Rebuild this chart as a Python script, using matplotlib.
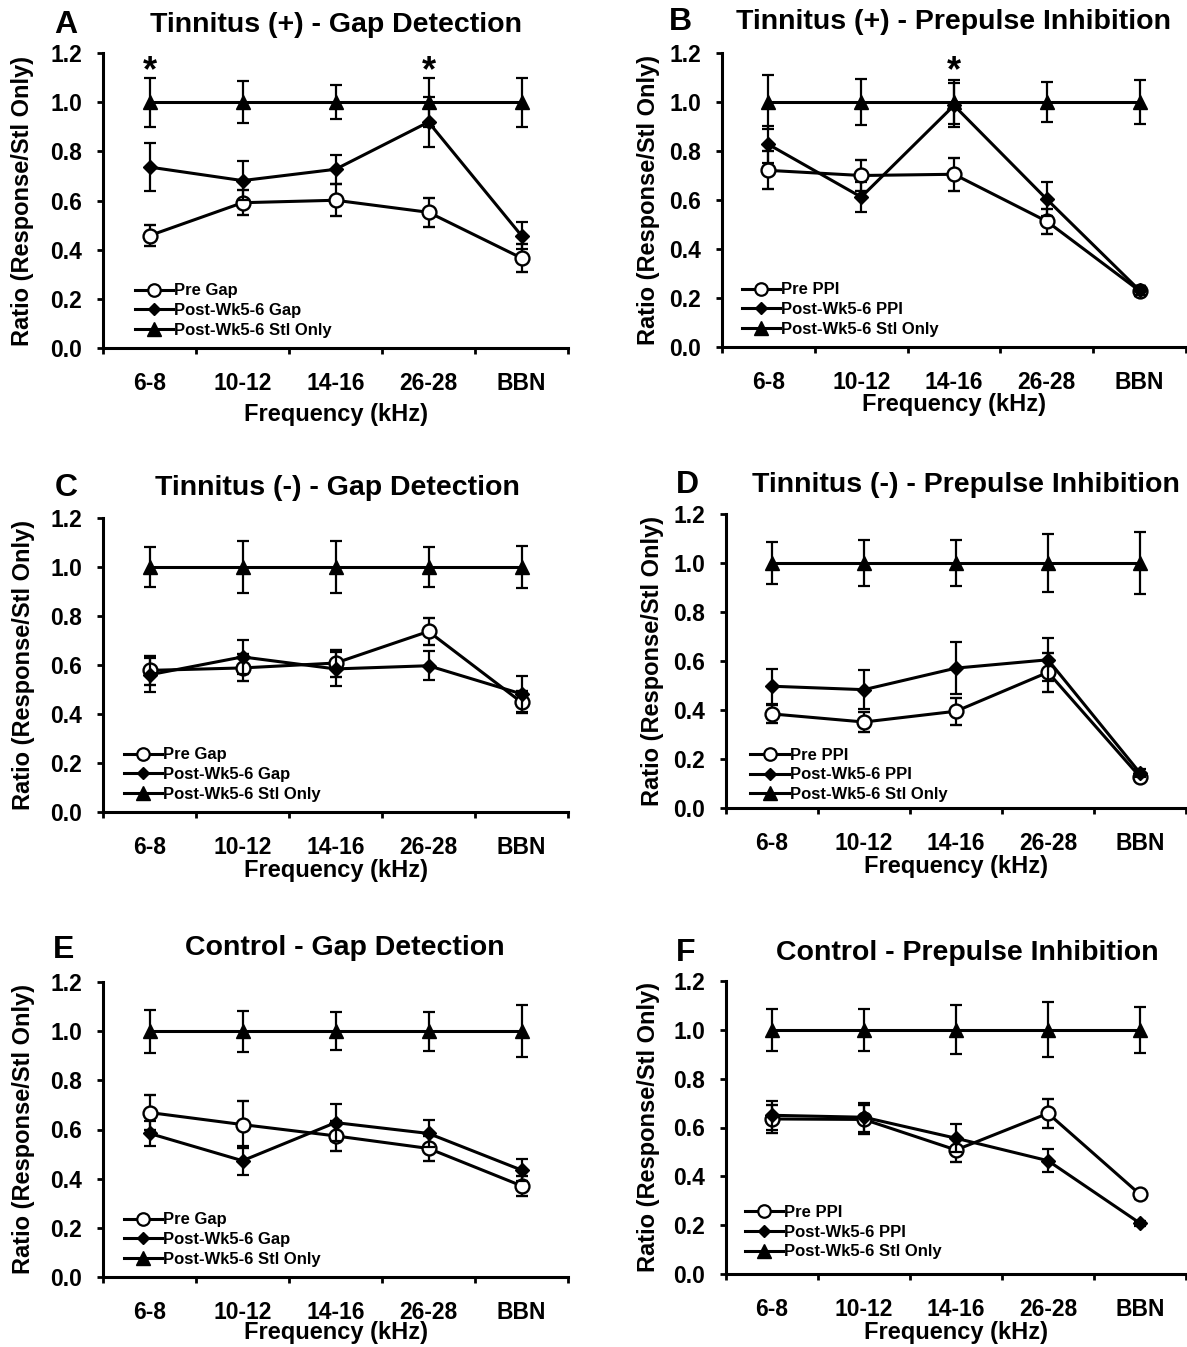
import numpy as np
import matplotlib
matplotlib.use("Agg")
import matplotlib.pyplot as plt
from matplotlib.lines import Line2D

plt.rcParams['font.family'] = ['Liberation Sans', 'DejaVu Sans']
plt.rcParams['font.weight'] = 'bold'

W, H = 1187, 1347

freqs = ["6-8", "10-12", "14-16", "26-28", "BBN"]

# A - Tinnitus (+) gap
a_pre = [0.457, 0.591, 0.601, 0.552, 0.366]
a_pre_err = [0.042, 0.05, 0.065, 0.06, 0.057]
a_post = [0.736, 0.681, 0.727, 0.919, 0.457]
a_post_err = [0.097, 0.08, 0.06, 0.10, 0.055]
a_stl = [1.0, 1.0, 1.0, 1.0, 1.0]
a_stl_err = [0.10, 0.085, 0.07, 0.10, 0.10]
a_stars = [0, 3]

# B - Tinnitus (+) PPI
b_pre = [0.721, 0.70, 0.705, 0.513, 0.229]
b_pre_err = [0.078, 0.065, 0.067, 0.05, 0.02]
b_post = [0.827, 0.612, 0.986, 0.603, 0.231]
b_post_err = [0.075, 0.06, 0.09, 0.07, 0.02]
b_stl = [1.0, 1.0, 1.0, 1.0, 1.0]
b_stl_err = [0.11, 0.095, 0.09, 0.08, 0.09]
b_stars = [2]

# C - Tinnitus (-) gap
c_pre = [0.578, 0.588, 0.608, 0.737, 0.448]
c_pre_err = [0.06, 0.055, 0.055, 0.055, 0.045]
c_post = [0.56, 0.633, 0.584, 0.597, 0.482]
c_post_err = [0.07, 0.07, 0.068, 0.06, 0.072]
c_stl = [1.0, 1.0, 1.0, 1.0, 1.0]
c_stl_err = [0.08, 0.105, 0.105, 0.083, 0.087]

# D - Tinnitus (-) PPI
d_pre = [0.384, 0.351, 0.395, 0.554, 0.127]
d_pre_err = [0.037, 0.042, 0.055, 0.08, 0.015]
d_post = [0.497, 0.483, 0.571, 0.605, 0.143]
d_post_err = [0.072, 0.079, 0.105, 0.088, 0.015]
d_stl = [1.0, 1.0, 1.0, 1.0, 1.0]
d_stl_err = [0.084, 0.095, 0.095, 0.12, 0.125]

# E - Control gap
e_pre = [0.669, 0.62, 0.574, 0.523, 0.371]
e_pre_err = [0.073, 0.094, 0.06, 0.05, 0.04]
e_post = [0.584, 0.473, 0.628, 0.584, 0.435]
e_post_err = [0.05, 0.06, 0.075, 0.055, 0.043]
e_stl = [1.0, 1.0, 1.0, 1.0, 1.0]
e_stl_err = [0.087, 0.084, 0.076, 0.08, 0.105]

# F - Control PPI
f_pre = [0.635, 0.633, 0.508, 0.658, 0.326]
f_pre_err = [0.058, 0.06, 0.05, 0.058, 0.02]
f_post = [0.65, 0.642, 0.556, 0.464, 0.208]
f_post_err = [0.06, 0.06, 0.058, 0.048, 0.01]
f_stl = [1.0, 1.0, 1.0, 1.0, 1.0]
f_stl_err = [0.086, 0.085, 0.10, 0.113, 0.095]

gap_labels = ["Pre Gap", "Post-Wk5-6 Gap", "Post-Wk5-6 Stl Only"]
ppi_labels = ["Pre PPI", "Post-Wk5-6 PPI", "Post-Wk5-6 Stl Only"]

panels = [
    ("A", "Tinnitus (+) - Gap Detection", a_pre, a_pre_err, a_post, a_post_err, a_stl, a_stl_err, gap_labels, a_stars),
    ("B", "Tinnitus (+) - Prepulse Inhibition", b_pre, b_pre_err, b_post, b_post_err, b_stl, b_stl_err, ppi_labels, b_stars),
    ("C", "Tinnitus (-) - Gap Detection", c_pre, c_pre_err, c_post, c_post_err, c_stl, c_stl_err, gap_labels, []),
    ("D", "Tinnitus (-) - Prepulse Inhibition", d_pre, d_pre_err, d_post, d_post_err, d_stl, d_stl_err, ppi_labels, []),
    ("E", "Control - Gap Detection", e_pre, e_pre_err, e_post, e_post_err, e_stl, e_stl_err, gap_labels, []),
    ("F", "Control - Prepulse Inhibition", f_pre, f_pre_err, f_post, f_post_err, f_stl, f_stl_err, ppi_labels, []),
]

# pixel layout: axes box (l, t, r, b), letter xy, title xy, ylabel x, xlabel y, legend anchor
layout = [
    ((103, 53, 568, 348), (66, 25), (336, 25), 23, 415, (0.069, 0.035)),
    ((722, 53, 1186, 347), (680, 22), (953, 22), 648, 405, (0.043, 0.035)),
    ((103, 518, 568, 812), (66, 488), (337, 488), 24, 870, (0.045, 0.035)),
    ((726, 514, 1186, 808), (687, 485), (966, 485), 653, 867, (0.053, 0.02)),
    ((103, 982, 568, 1277), (64, 950), (345, 948), 24, 1333, (0.045, 0.035)),
    ((726, 981, 1186, 1274), (686, 953), (967, 953), 648, 1333, (0.041, 0.05)),
]


def fx(px):
    return px / W


def fy(py):
    return 1 - py / H


fig = plt.figure(figsize=(W / 100, H / 100), dpi=100)
x = np.arange(len(freqs))

for (letter, title, pre, pre_e, post, post_e, stl, stl_e, labels, stars), lay in zip(panels, layout):
    (l, t, r, b), lxy, txy, ylx, xly, leg_anchor = lay
    ax = fig.add_axes([fx(l), fy(b), fx(r - l), (b - t) / H])

    common = dict(color='black', lw=2.2, elinewidth=1.6, capsize=4.5, capthick=1.6, clip_on=False)
    ax.errorbar(x, pre, yerr=pre_e, marker='o', ms=10, mfc='white', mec='black', mew=1.7, zorder=3, **common)
    ax.errorbar(x, post, yerr=post_e, marker='D', ms=7, mfc='black', mec='black', zorder=4, **common)
    ax.errorbar(x, stl, yerr=stl_e, marker='^', ms=10, mfc='black', mec='black', zorder=2, **common)

    for s in stars:
        ax.text(x[s], 1.125, "*", ha='center', va='center', fontsize=26, fontweight='bold')

    ax.set_xlim(-0.5, 4.5)
    ax.set_ylim(0, 1.2)
    ax.spines['top'].set_visible(False)
    ax.spines['right'].set_visible(False)
    ax.spines['left'].set_linewidth(2.2)
    ax.spines['bottom'].set_linewidth(2.2)

    ax.set_xticks(np.arange(-0.5, 5, 1))
    ax.set_xticklabels([])
    ax.set_xticks(x, minor=True)
    ax.set_xticklabels(freqs, minor=True, fontsize=16.5, fontweight='bold')
    ax.tick_params(axis='x', which='major', direction='out', length=4, width=2)
    ax.tick_params(axis='x', which='minor', length=0, pad=17)
    ax.set_yticks(np.arange(0, 1.21, 0.2))
    ax.set_yticklabels([f"{v:.1f}" for v in np.arange(0, 1.21, 0.2)], fontsize=16.5, fontweight='bold')
    ax.tick_params(axis='y', direction='out', length=4, width=2, pad=11)

    handles = [Line2D([], [], color='black', lw=2.2, marker='o', ms=9, mfc='white', mec='black', mew=1.6),
               Line2D([], [], color='black', lw=2.2, marker='D', ms=6.5, mfc='black'),
               Line2D([], [], color='black', lw=2.2, marker='^', ms=9.5, mfc='black')]
    ax.legend(handles, labels, loc='lower left', bbox_to_anchor=leg_anchor, frameon=False,
              handlelength=2.3, handletextpad=0.05, labelspacing=0.28,
              borderpad=0, borderaxespad=0, numpoints=1, prop={'weight': 'bold', 'size': 12})

    fig.text(fx(lxy[0]), fy(lxy[1]), letter, ha='center', va='center', fontsize=23, fontweight='bold')
    fig.text(fx(txy[0]), fy(txy[1]), title, ha='center', va='center', fontsize=20.5, fontweight='bold')
    fig.text(fx(ylx), fy((t + b) / 2), "Ratio (Response/Stl Only)", rotation=90, ha='center', va='center',
             fontsize=17, fontweight='bold')
    fig.text(fx((l + r) / 2), fy(xly), "Frequency (kHz)", ha='center', va='center', fontsize=17, fontweight='bold')

fig.savefig("out.png", dpi=100)
